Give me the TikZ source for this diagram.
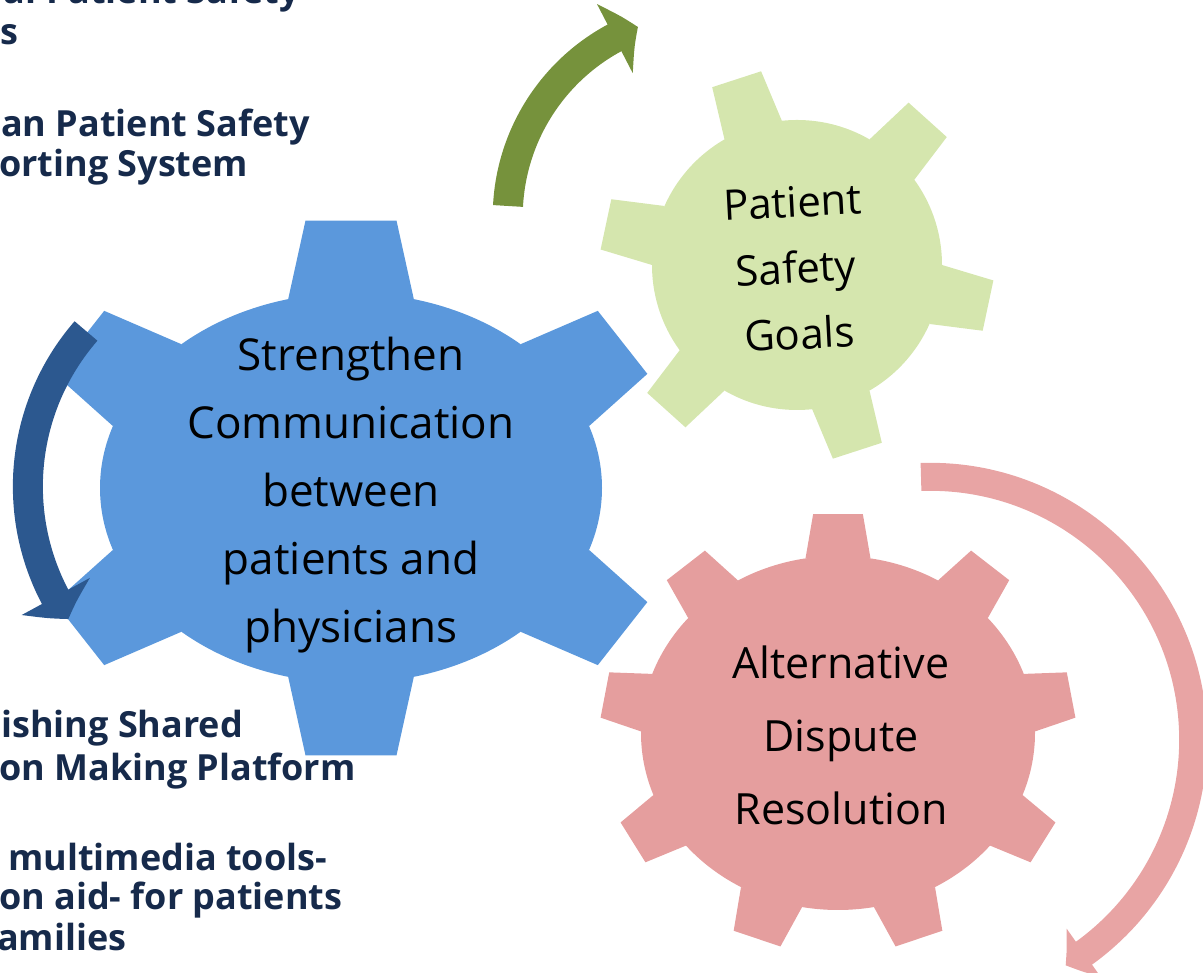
\documentclass[tikz,border=0pt]{standalone}
\usepackage{fontspec}
\setmainfont{Open Sans}
\usetikzlibrary{arrows.meta,bending}

\definecolor{bluegear}{RGB}{91,152,220}
\definecolor{greengear}{RGB}{213,230,174}
\definecolor{pinkgear}{RGB}{229,158,158}
\definecolor{bluearrow}{RGB}{44,88,143}
\definecolor{greenarrow}{RGB}{118,146,60}
\definecolor{pinkarrow}{RGB}{232,164,164}
\definecolor{navy}{RGB}{22,42,75}

% gear: fill, centre, outer x/y radius, inner x/y radius, tip/base half angle, teeth
\newcommand{\gear}[9]{%
  \begin{scope}[shift={#2}]
    \fill[#1] (0,0) ellipse [x radius=#5, y radius=#6];
    \foreach \a in {#9}
      \fill[#1] (\a-#8:#5 and #6) -- (\a-#7:#3 and #4)
        -- (\a+#7:#3 and #4) -- (\a+#8:#5 and #6) -- cycle;
  \end{scope}}

\begin{document}
\begin{tikzpicture}[x=1pt, y=1pt,
    gear text/.style={align=center, inner sep=0, text=black},
    side text/.style={anchor=base west, inner sep=0, text=navy,
      font=\bfseries\fontsize{36}{42}\selectfont},
    turn/.style={line width=30pt, -{Triangle[length=26pt,width=76pt,bend]}}]

  \useasboundingbox (0,0) rectangle (1203,973);
  \clip (0,0) rectangle (1203,973);

  \gear{fill=bluegear}{(351,485)}{327}{270}{251}{195}{8}{14.5}{90,33,-33,-90,-147,147}
  \gear{fill=greengear}{(797,708)}{197}{197}{145}{145}{7.5}{12}{108,48,-12,-72,-132,168}
  \gear{fill=pinkgear}{(838,240)}{238}{220}{197}{177}{6}{9.5}{90,50,10,-30,-70,-110,-150,170,130}

  \node (comm) [gear text, font=\fontsize{44}{68}\selectfont] at (351,478)
    {Strengthen\\Communication\\between\\patients and\\physicians};
  \node (goals) [gear text, rotate=3, font=\fontsize{42}{66}\selectfont] at (796,705)
    {Patient\\Safety\\Goals};
  \node (adr) [gear text, font=\fontsize{43}{73}\selectfont] at (841,238)
    {Alternative\\Dispute\\Resolution};

  \node (nps1) [side text, anchor=base east] at (300,969) {al Patient Safety};
  \node (nps2) [side text] at (0,928) {s};
  \node (tpr1) [side text] at (1,836) {an Patient Safety};
  \node (tpr2) [side text] at (-1,796) {orting System};
  \node (sdm1) [side text] at (1,235) {ishing Shared};
  \node (sdm2) [side text] at (-1,192) {on Making Platform};
  \node (mmt1) [side text] at (8,102) {multimedia tools-};
  \node (mmt2) [side text] at (-1,63) {on aid- for patients};
  \node (mmt3) [side text] at (-3,22) {amilies};

  \coordinate (gtail) at (508,767);
  \coordinate (btail) at (86,642);
  \coordinate (ptail) at (921,496);

  \draw[turn, greenarrow] (gtail) arc[start angle=177, end angle=111, radius=203];
  \draw[turn, bluearrow] (btail) arc[start angle=139, end angle=214, radius=237];
  \draw[turn, pinkarrow, line width=28pt, -{Triangle[length=22pt,width=58pt,bend]}]
    (ptail) arc[start angle=92, end angle=-59, radius=263];
\end{tikzpicture}
\end{document}
